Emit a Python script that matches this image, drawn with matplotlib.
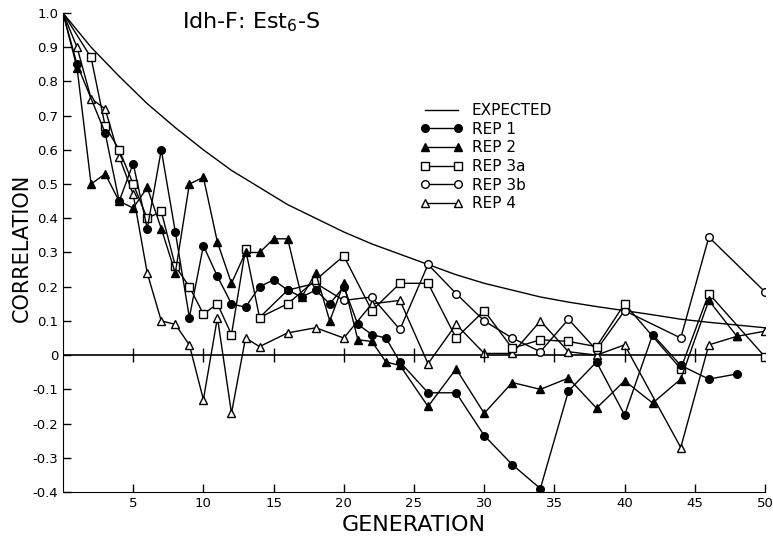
import numpy as np
import matplotlib
matplotlib.use('Agg')
import matplotlib.pyplot as plt
from matplotlib.lines import Line2D

# values
exp_gen = [0, 2, 4, 6, 8, 10, 12, 14, 16, 18, 20, 22, 24, 26, 28, 30, 32, 34, 36, 38, 40, 42, 44, 46, 48, 50]
expected = [1.0, 0.90, 0.815, 0.735, 0.665, 0.60, 0.54, 0.49, 0.44, 0.40, 0.36, 0.325, 0.295, 0.265,
            0.235, 0.21, 0.19, 0.17, 0.155, 0.142, 0.13, 0.118, 0.105, 0.096, 0.088, 0.08]

rep1_gen = [0, 1, 3, 4, 5, 6, 7, 8, 9, 10, 11, 12, 13, 14, 15, 16, 17, 18, 19, 20, 21, 22, 23, 24,
            26, 28, 30, 32, 34, 36, 38, 40, 42, 44, 46, 48]
rep1 = [1.0, 0.85, 0.65, 0.45, 0.56, 0.37, 0.60, 0.36, 0.11, 0.32, 0.23, 0.15, 0.14, 0.20, 0.22, 0.19,
        0.17, 0.19, 0.15, 0.20, 0.09, 0.06, 0.05, -0.02, -0.11, -0.11, -0.235, -0.32, -0.39, -0.105,
        -0.02, -0.175, 0.06, -0.03, -0.07, -0.055]

rep2_gen = list(range(0, 25)) + [26, 28, 30, 32, 34, 36, 38, 40, 42, 44, 46, 48]
rep2 = [1.0, 0.84, 0.50, 0.53, 0.45, 0.43, 0.49, 0.37, 0.24, 0.50, 0.52, 0.33, 0.21, 0.30, 0.30, 0.34,
        0.34, 0.17, 0.24, 0.10, 0.21, 0.045, 0.04, -0.02, -0.03,
        -0.15, -0.04, -0.17, -0.08, -0.10, -0.067, -0.155, -0.075, -0.14, -0.07, 0.16, 0.055]

rep3a_gen = [0, 2, 3, 4, 5, 6, 7, 8, 9, 10, 11, 12, 13, 14, 16, 18, 20, 22, 24, 26, 28, 30, 32, 34,
             36, 38, 40, 44, 46, 50]
rep3a = [1.0, 0.87, 0.67, 0.60, 0.50, 0.40, 0.42, 0.26, 0.20, 0.12, 0.15, 0.06, 0.31, 0.11, 0.15, 0.22,
         0.29, 0.13, 0.21, 0.21, 0.05, 0.13, 0.02, 0.045, 0.04, 0.025, 0.15, -0.04, 0.18, -0.005]

rep3b_gen = [14, 16, 18, 20, 22, 24, 26, 28, 30, 32, 34, 36, 38, 40, 44, 46, 50]
rep3b = [0.11, 0.19, 0.21, 0.16, 0.17, 0.075, 0.265, 0.18, 0.10, 0.05, 0.01, 0.105, 0.015, 0.13, 0.05,
         0.345, 0.185]

rep4_gen = list(range(0, 15)) + [16, 18, 20, 22, 24, 26, 28, 30, 32, 34, 36, 38, 40, 44, 46, 48, 50]
rep4 = [1.0, 0.90, 0.75, 0.72, 0.58, 0.47, 0.24, 0.10, 0.09, 0.03, -0.13, 0.11, -0.17, 0.05, 0.025,
        0.065, 0.08, 0.05, 0.15, 0.16, -0.025, 0.09, 0.005, 0.005, 0.10, 0.01, 0.0, 0.03, -0.27, 0.03,
        0.055, 0.07]

xticks = [5, 10, 15, 20, 25, 30, 35, 40, 45, 50]
yticks = [-0.4, -0.3, -0.2, -0.1, 0, 0.1, 0.2, 0.3, 0.4, 0.5, 0.6, 0.7, 0.8, 0.9, 1.0]
ylabels = ['-0.4', '-0.3', '-0.2', '-0.1', '0', '0.1', '0.2', '0.3', '0.4', '0.5',
           '0.6', '0.7', '0.8', '0.9', '1.0']

fig = plt.figure(figsize=(7.73, 5.38), dpi=100)
ax = fig.add_axes([63/773, 46/538, 702/773, 479/538])

ax.plot(exp_gen, expected, color='k', lw=1.0)

styles = [
    (rep4_gen, rep4, dict(marker='^', mfc='white', ms=5.5)),
    (rep3b_gen, rep3b, dict(marker='o', mfc='white', ms=5.5)),
    (rep3a_gen, rep3a, dict(marker='s', mfc='white', ms=5.5)),
    (rep2_gen, rep2, dict(marker='^', mfc='k', ms=5.5)),
    (rep1_gen, rep1, dict(marker='o', mfc='k', ms=5.5)),
]
for g, v, st in styles:
    # no marker at the common origin (gen 0) / split point of rep 3b
    ax.plot(g, v, color='k', lw=1.0, mec='k', markevery=slice(1, None), **st)

# zero line with small ticks
ax.axhline(0, color='k', lw=1.2, zorder=1)
ax.plot(xticks[:-1], [0]*(len(xticks)-1), ls='none', marker='|', ms=10, mew=1, color='k')

ax.set_xlim(0, 50)
ax.set_ylim(-0.4, 1.0)
ax.spines['top'].set_visible(False)
ax.spines['right'].set_visible(False)
ax.set_xticks(xticks)
ax.set_yticks(yticks)
ax.set_yticklabels(ylabels)
ax.tick_params(direction='in', length=6, width=1, labelsize=9.5)
ax.set_xlabel('GENERATION', fontsize=16, labelpad=4)
ax.set_ylabel('CORRELATION', fontsize=15)
ax.yaxis.set_label_coords(-0.045, 0.51)

fig.text(182/773, 1 - 22/538, 'Idh-F: Est$_6$-S', fontsize=16, va='center', ha='left')

handles = [
    Line2D([], [], color='k', lw=1.0),
    Line2D([], [], color='k', lw=1.0, marker='o', mfc='k', ms=5.5),
    Line2D([], [], color='k', lw=1.0, marker='^', mfc='k', ms=5.5),
    Line2D([], [], color='k', lw=1.0, marker='s', mfc='white', ms=5.5),
    Line2D([], [], color='k', lw=1.0, marker='o', mfc='white', ms=5.5),
    Line2D([], [], color='k', lw=1.0, marker='^', mfc='white', ms=5.5),
]
labels = ['EXPECTED', 'REP 1', 'REP 2', 'REP 3a', 'REP 3b', 'REP 4']
fig.legend(handles, labels, loc='upper left', bbox_to_anchor=(420/773, 1 - 103/538),
           frameon=False, numpoints=2, fontsize=11, handlelength=2.8, handletextpad=0.6,
           labelspacing=0.24, borderpad=0, borderaxespad=0)

plt.savefig('out.png', dpi=100)
